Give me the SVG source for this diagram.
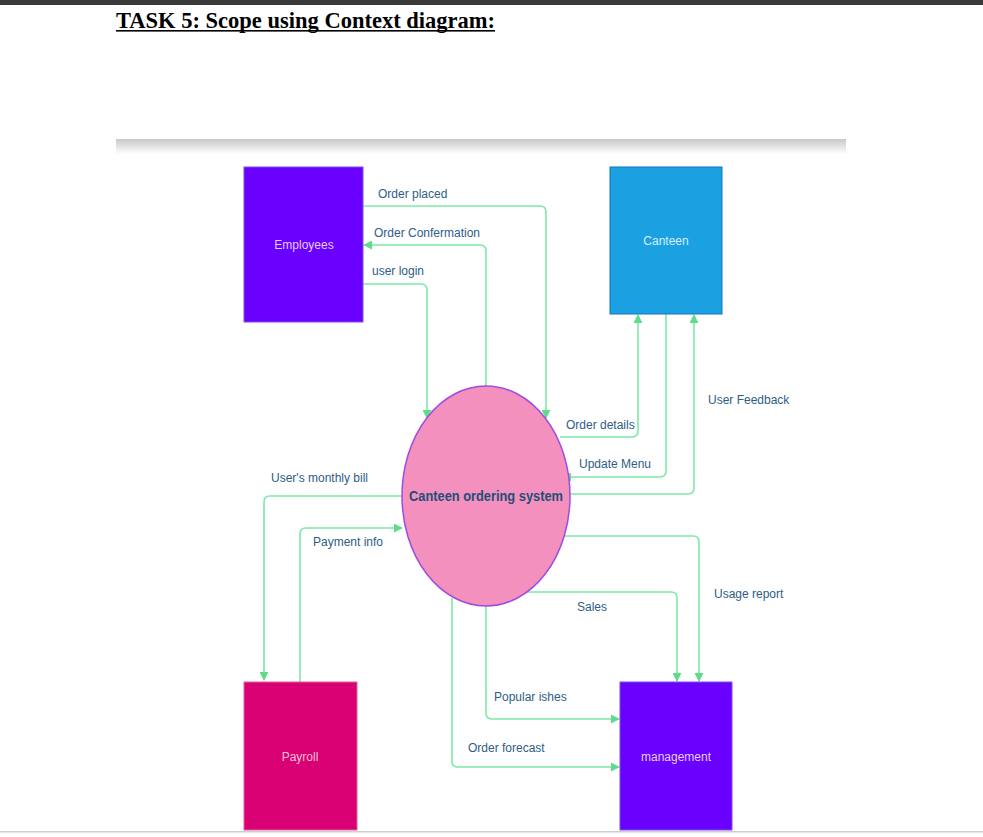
<svg xmlns="http://www.w3.org/2000/svg" width="983" height="837" viewBox="0 0 983 837">
<defs>
<linearGradient id="band" x1="0" y1="0" x2="0" y2="1">
<stop offset="0" stop-color="#c8c8c8"/>
<stop offset="1" stop-color="#ffffff"/>
</linearGradient>
<marker id="arr" viewBox="0 0 10 10" refX="9" refY="5" markerWidth="9" markerHeight="9" markerUnits="userSpaceOnUse" orient="auto">
<path d="M0,0 L10,5 L0,10 z" fill="#5fdc8a"/>
</marker>
<style>
.box{stroke-width:1}
.nlabel{font-family:"Liberation Sans",Arial,sans-serif;font-size:12px;text-anchor:middle;dominant-baseline:middle}
.elabel{font-family:"Liberation Sans",Arial,sans-serif;font-size:12px;fill:#2e5d88}
.conn{fill:none;stroke:#7fe8a6;stroke-width:1.6;stroke-linejoin:round}
.arrow{marker-end:url(#arr)}
</style>
</defs>
<rect x="0" y="0" width="983" height="837" fill="#ffffff"/>
<rect x="0" y="0" width="983" height="5" fill="#3a3a3a"/>
<text x="116" y="28" font-family="'Liberation Serif','Times New Roman',serif" font-size="24" font-weight="bold" textLength="379" lengthAdjust="spacingAndGlyphs" fill="#000">TASK 5: Scope using Context diagram:</text>
<rect x="116" y="30" width="379" height="1.6" fill="#000"/>
<rect x="116" y="139" width="730" height="15" fill="url(#band)"/>
<rect x="0" y="831" width="983" height="1.5" fill="#cfcfcf"/>

<g id="connectors">
<path class="conn arrow" d="M363,206 H540 Q546,206 546,212 V418"/>
<path class="conn arrow" d="M486,386 V251 Q486,245 480,245 H364"/>
<path class="conn arrow" d="M363,284 H421 Q427,284 427,290 V418"/>
<path class="conn arrow" d="M560,437 H632 Q638,437 638,431 V315"/>
<path class="conn arrow" d="M666,314 V471 Q666,477 660,477 H563"/>
<path class="conn arrow" d="M570,494 H688 Q694,494 694,488 V315"/>
<path class="conn arrow" d="M402,496 H270 Q264,496 264,502 V680"/>
<path class="conn arrow" d="M300,682 V534 Q300,528 306,528 H402"/>
<path class="conn arrow" d="M561,536 H693 Q699,536 699,542 V681"/>
<path class="conn arrow" d="M521,592 H671 Q677,592 677,598 V681"/>
<path class="conn arrow" d="M486,605 V713 Q486,719 492,719 H619"/>
<path class="conn arrow" d="M452,598 V761 Q452,767 458,767 H619"/>
</g>

<g id="edge-labels">
<text class="elabel" x="378" y="198">Order placed</text>
<text class="elabel" x="374" y="237">Order Confermation</text>
<text class="elabel" x="372" y="275">user login</text>
<text class="elabel" x="566" y="429">Order details</text>
<text class="elabel" x="579" y="468">Update Menu</text>
<text class="elabel" x="708" y="404">User Feedback</text>
<text class="elabel" x="271" y="482">User's monthly bill</text>
<text class="elabel" x="313" y="546">Payment info</text>
<text class="elabel" x="714" y="598">Usage report</text>
<text class="elabel" x="577" y="611">Sales</text>
<text class="elabel" x="494" y="701">Popular ishes</text>
<text class="elabel" x="468" y="752">Order forecast</text>
</g>

<g id="employees">
<rect class="box" x="244" y="167" width="119" height="155" fill="#6a00ff" stroke="#7f4fe0"/>
<text class="nlabel" x="304" y="246" fill="#e4cffc">Employees</text>
</g>
<g id="canteen">
<rect class="box" x="610" y="167" width="112" height="147" fill="#1ba1e2" stroke="#1176b8"/>
<text class="nlabel" x="666" y="242" fill="#d6efff">Canteen</text>
</g>
<g id="system">
<ellipse cx="486" cy="496" rx="84" ry="110" fill="#f390bd" stroke="#a04be0" stroke-width="1.5"/>
<text x="486" y="497" font-family="'Liberation Sans',Arial,sans-serif" font-size="14" font-weight="bold" fill="#1f4e79" text-anchor="middle" dominant-baseline="middle" textLength="154" lengthAdjust="spacingAndGlyphs">Canteen ordering system</text>
</g>
<g id="payroll">
<rect class="box" x="244" y="682" width="113" height="148" fill="#d80073" stroke="#e060a0"/>
<text class="nlabel" x="300" y="758" fill="#f7c0dc">Payroll</text>
</g>
<g id="management">
<rect class="box" x="620" y="682" width="112" height="148" fill="#6a00ff" stroke="#7f4fe0"/>
<text class="nlabel" x="676" y="758" fill="#e4cffc">management</text>
</g>
</svg>
